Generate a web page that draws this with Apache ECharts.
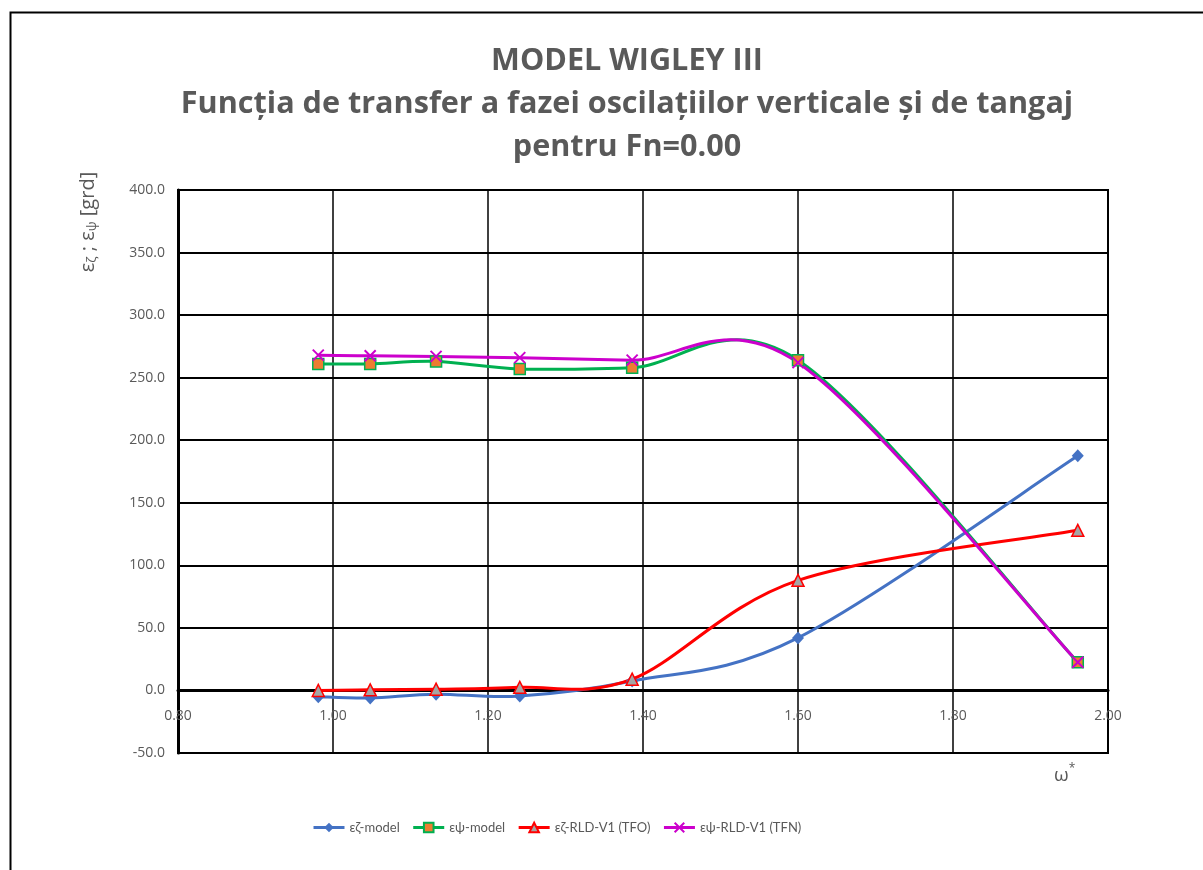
<!DOCTYPE html>
<html>
<head>
<meta charset="utf-8">
<script src="https://cdn.jsdelivr.net/npm/echarts@6/dist/echarts.min.js"></script>
<style>html,body{margin:0;padding:0;background:#fff;}#c{width:1203px;height:870px;}</style>
</head>
<body>
<div id="c"></div>
<script>
const omega = [0.981, 1.048, 1.133, 1.241, 1.386, 1.600, 1.961];
const ezModel = [-5, -6, -3, -4.5, 7.5, 42, 187.5];
const epsiModel = [261, 261, 263, 257, 258, 264, 22.5];
const ezRLD = [0, 0.5, 1, 2.5, 9, 88, 128];
const epsiRLD = [268, 267.5, 267, 266, 264, 262, 22.5];
const xTicks = [0.8, 1.0, 1.2, 1.4, 1.6, 1.8, 2.0];
const yTicks = [-50, 0, 50, 100, 150, 200, 250, 300, 350, 400];
const seriesNames = ['εζ-model', 'εψ-model', 'εζ-RLD-V1 (TFO)', 'εψ-RLD-V1 (TFN)'];
const colors = ['#4472C4', '#00B050', '#FF0000', '#CC00CC'];

function pairs(ys){ return omega.map((x,i)=>[x, ys[i]]); }

// Spreadsheet-style smoothed curve through the data points, placed via the axes (api.coord)
function splineSeries(ys, color, z){
  return {
    type: 'custom', coordinateSystem: 'cartesian2d', z: z, silent: true,
    data: pairs(ys),
    renderItem: function(params, api){
      if (params.dataIndex !== 0) return null;
      const p = omega.map((x,i)=>api.coord([x, ys[i]]));
      const n = p.length, t = 1/6;
      let d = 'M' + p[0][0] + ' ' + p[0][1];
      for (let i = 0; i < n-1; i++){
        const p0 = p[Math.max(i-1,0)], p1 = p[i], p2 = p[i+1], p3 = p[Math.min(i+2,n-1)];
        const c1 = [p1[0] + (p2[0]-p0[0])*t, p1[1] + (p2[1]-p0[1])*t];
        const c2 = [p2[0] - (p3[0]-p1[0])*t, p2[1] - (p3[1]-p1[1])*t];
        d += ' C' + c1[0] + ' ' + c1[1] + ' ' + c2[0] + ' ' + c2[1] + ' ' + p2[0] + ' ' + p2[1];
      }
      return { type: 'path', shape: { pathData: d }, style: { stroke: color, lineWidth: 3, fill: 'none', lineJoin: 'round' } };
    }
  };
}

const chart = echarts.init(document.getElementById('c'));
const txt = '#595959';
chart.setOption({
  backgroundColor: '#fff',
  animation: false,
  title: {
    text: 'MODEL WIGLEY III\nFuncția de transfer a fazei oscilațiilor verticale și de tangaj\npentru Fn=0.00',
    left: 622, textAlign: 'center', top: 35,
    textStyle: { fontFamily: 'Open Sans', fontWeight: 'bold', fontSize: 30.6, lineHeight: 43, color: txt }
  },
  grid: { left: 178, right: 95, top: 190, bottom: 117, show: true, borderColor: '#000', borderWidth: 2 },
  legend: {
    bottom: 31, left: 307, itemWidth: 31, itemHeight: 12, itemGap: 12,
    textStyle: { fontFamily: 'Lato', fontSize: 13, color: txt },
    lineStyle: { width: 3 },
    data: seriesNames
  },
  xAxis: {
    type: 'value', min: xTicks[0], max: xTicks[xTicks.length-1], interval: 0.2,
    axisLine: { onZero: true, lineStyle: { color: '#000', width: 3 } },
    axisTick: { show: false },
    axisLabel: { formatter: v => v.toFixed(2), color: txt, fontFamily: 'Open Sans', fontSize: 14, margin: -44 },
    splitLine: { show: true, lineStyle: { color: '#000', width: 1.5 } }
  },
  yAxis: {
    type: 'value', min: yTicks[0], max: yTicks[yTicks.length-1], interval: 50,
    axisLine: { show: true, lineStyle: { color: '#000', width: 3 } },
    axisTick: { show: false },
    axisLabel: { formatter: v => v.toFixed(1), color: txt, fontFamily: 'Open Sans', fontSize: 14, margin: 13 },
    splitLine: { show: true, lineStyle: { color: '#000', width: 2 } }
  },
  graphic: [
    { type: 'rect', left: 8, top: 10, shape: { width: 1400, height: 1000 }, style: { fill: 'none', stroke: '#000', lineWidth: 2 }, z: 100, silent: true },
    { type: 'text', x: 88, y: 222, rotation: Math.PI/2, z: 100,
      style: { text: 'ε{s|ζ} ; ε{s|ψ} [grd]', align: 'center', verticalAlign: 'middle',
        font: '20px "Open Sans"', fill: txt,
        rich: { s: { fontSize: 13, fontFamily: 'Open Sans', fill: txt, padding: [9,0,0,0] } } } },
    { type: 'text', x: 1054, y: 776, z: 100,
      style: { text: 'ω{p|*}', align: 'left', verticalAlign: 'middle',
        font: '19px "Open Sans"', fill: txt,
        rich: { p: { fontSize: 12, fontFamily: 'Open Sans', fill: txt, padding: [0,0,14,0] } } } }
  ],
  series: [
    splineSeries(ezModel, colors[0], 3),
    splineSeries(epsiModel, colors[1], 3),
    splineSeries(ezRLD, colors[2], 4),
    splineSeries(epsiRLD, colors[3], 4),
    { name: seriesNames[0], type: 'line', data: pairs(ezModel), z: 5,
      symbol: 'diamond', symbolSize: [12, 13],
      lineStyle: { color: colors[0], width: 0 }, itemStyle: { color: colors[0] } },
    { name: seriesNames[1], type: 'line', data: pairs(epsiModel), z: 5,
      symbol: 'rect', symbolSize: 11,
      lineStyle: { color: colors[1], width: 0 }, itemStyle: { color: '#ED7D31', borderColor: colors[1], borderWidth: 1.5 } },
    { name: seriesNames[2], type: 'line', data: pairs(ezRLD), z: 6,
      symbol: 'triangle', symbolSize: 12,
      lineStyle: { color: colors[2], width: 0 }, itemStyle: { color: '#A5A5A5', borderColor: colors[2], borderWidth: 1.5 } },
    { name: seriesNames[3], type: 'line', data: pairs(epsiRLD), z: 6,
      symbol: 'path://M0,0L10,10M10,0L0,10', symbolSize: 11,
      lineStyle: { color: colors[3], width: 0 }, itemStyle: { color: colors[3], borderColor: colors[3], borderWidth: 2 } }
  ]
});
</script>
</body>
</html>
